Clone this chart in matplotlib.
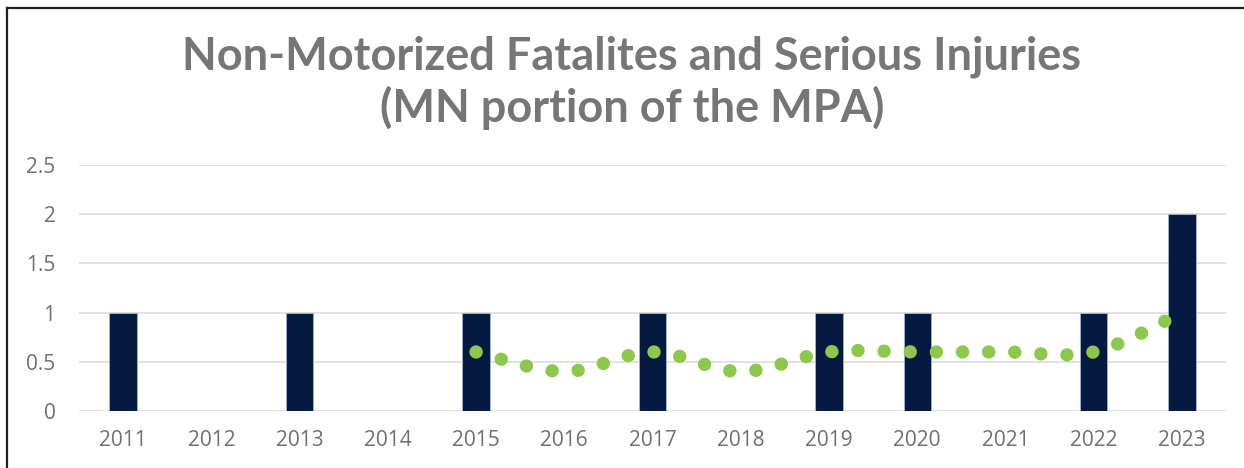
import numpy as np
import matplotlib
matplotlib.use("Agg")
import matplotlib.pyplot as plt
from matplotlib.path import Path
from matplotlib.patches import PathPatch
from matplotlib.lines import Line2D

# data
years = ['2011', '2012', '2013', '2014', '2015', '2016', '2017',
         '2018', '2019', '2020', '2021', '2022', '2023']
counts = [1, 0, 1, 0, 1, 0, 1, 0, 1, 1, 0, 1, 2]
# 5-year moving average trend, starts at 2015
trend_start = 4
trend = [0.6, 0.4, 0.6, 0.4, 0.6, 0.6, 0.6, 0.6, 1.0]

W, H = 1244, 468
fig = plt.figure(figsize=(W / 100, H / 100), dpi=100)
fig.patch.set_facecolor('white')

ax = fig.add_axes([79 / W, 1 - 411 / H, (1226 - 79) / W, (411 - 165) / H])
x = np.arange(len(years))
ax.bar(x, counts, width=0.31, color='#051a40', edgecolor='#aab4c8',
       linewidth=0.6, zorder=3)

# smoothed trend line (excel style bezier through the points)
tx = np.arange(trend_start, trend_start + len(trend))
pts = np.column_stack([tx, trend]).astype(float)
verts = [pts[0]]
codes = [Path.MOVETO]
n = len(pts)
for i in range(n - 1):
    p0 = pts[i - 1] if i > 0 else pts[i]
    p1 = pts[i]
    p2 = pts[i + 1]
    p3 = pts[i + 2] if i + 2 < n else pts[i + 1]
    verts += [p1 + (p2 - p0) / 6, p2 - (p3 - p1) / 6, p2]
    codes += [Path.CURVE4] * 3
patch = PathPatch(Path(verts, codes), fill=False, edgecolor='#8cc84b',
                  linewidth=9.6, linestyle=(0, (0.01, 1.95)), zorder=4)
patch.set_capstyle('round')
ax.add_patch(patch)

ax.set_xlim(-0.5, len(years) - 0.5)
ax.set_ylim(0, 2.5)
ax.set_yticks([0, 0.5, 1, 1.5, 2, 2.5])
ax.set_yticklabels(['0', '0.5', '1', '1.5', '2', '2.5'])
ax.set_xticks(x)
ax.set_xticklabels(years)
ax.grid(axis='y', color='#d9d9d9', linewidth=1.1, zorder=0)
ax.set_axisbelow(True)
for s in ax.spines.values():
    s.set_visible(False)
ax.tick_params(length=0, labelsize=15, labelcolor='#707070')
ax.tick_params(axis='y', pad=17)
ax.tick_params(axis='x', pad=14)
for lab in ax.get_xticklabels() + ax.get_yticklabels():
    lab.set_fontfamily('Open Sans')

# title, two lines
tkw = dict(ha='center', va='baseline', fontsize=32.5, fontweight='bold',
           color='#767676', family='Lato')
fig.text(632 / W, 1 - 70 / H, 'Non-Motorized Fatalites and Serious Injuries', **tkw)
fig.text(632 / W, 1 - 122 / H, '(MN portion of the MPA)', **tkw)

# partial frame around the chart (left and top edges visible)
fig.add_artist(Line2D([6.5 / W, 6.5 / W], [0, 1 - 7.5 / H], color='#222222',
                      linewidth=1.6, transform=fig.transFigure))
fig.add_artist(Line2D([6.5 / W, 1], [1 - 7.5 / H, 1 - 7.5 / H], color='#222222',
                      linewidth=1.6, transform=fig.transFigure))

fig.savefig('out.png', dpi=100)
